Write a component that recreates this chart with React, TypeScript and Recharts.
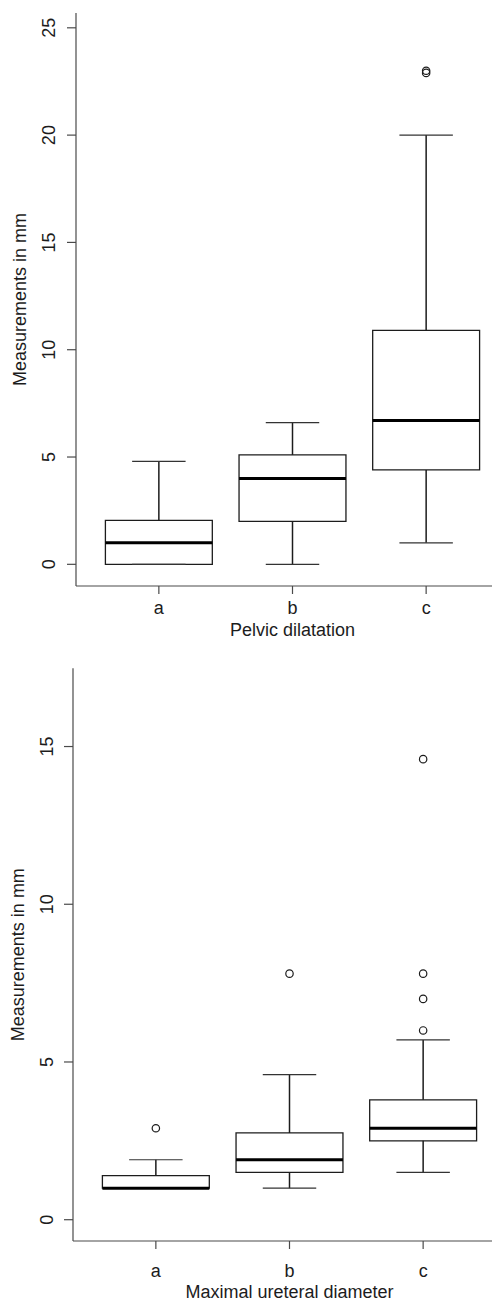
import { ComposedChart, ReferenceArea, ReferenceLine, Scatter, XAxis, YAxis } from "recharts";

const categories = ["a", "b", "c"];

// Pelvic dilatation (mm)
const pelvicLow = [0, 0, 1.0];
const pelvicQ1 = [0, 2.0, 4.4];
const pelvicMedian = [1.0, 4.0, 6.7];
const pelvicQ3 = [2.05, 5.1, 10.9];
const pelvicHigh = [4.8, 6.6, 20.0];
const pelvicOutliers = [[], [], [22.9, 23.0]];
const pelvicTicks = [0, 5, 10, 15, 20, 25];

// Maximal ureteral diameter (mm)
const ureterLow = [1.0, 1.0, 1.5];
const ureterQ1 = [1.0, 1.5, 2.5];
const ureterMedian = [1.0, 1.9, 2.9];
const ureterQ3 = [1.4, 2.75, 3.8];
const ureterHigh = [1.9, 4.6, 5.7];
const ureterOutliers = [[2.9], [7.8], [6.0, 7.0, 7.8, 14.6]];
const ureterTicks = [0, 5, 10, 15];

const ink = "#1c1c1c";
const axisInk = "#4a4a4a";
const font = "'Liberation Sans', Arial, sans-serif";

function RotatedTick({ x, y, payload }: any) {
  return (
    <text
      x={x}
      y={y}
      transform={`rotate(-90, ${x}, ${y})`}
      textAnchor="middle"
      fill={ink}
      fontSize={18}
      fontFamily={font}
    >
      {payload.value}
    </text>
  );
}

function XTitle({ text, centerX, baseY }: any) {
  return (
    <text x={centerX} y={baseY} textAnchor="middle" fill={ink} fontSize={18} fontFamily={font}>
      {text}
    </text>
  );
}

function YTitle({ text, baseX, centerY }: any) {
  return (
    <text
      x={baseX}
      y={centerY}
      transform={`rotate(-90, ${baseX}, ${centerY})`}
      textAnchor="middle"
      fill={ink}
      fontSize={18}
      fontFamily={font}
    >
      {text}
    </text>
  );
}

function Outlier({ cx, cy }: any) {
  if (cx == null || cy == null) return null;
  return <circle cx={cx} cy={cy} r={3.7} fill="none" stroke={ink} strokeWidth={1.2} />;
}

function BoxChart(props: any) {
  const {
    width, height, top, yAxisWidth, xAxisHeight, yDomain, yTicks,
    low, q1, median, q3, high, outliers, xTitle,
    xTickMargin, yTickMargin, xTitleBase, yTitleX,
  } = props;
  const plotWidth = width - yAxisWidth;
  const plotHeight = height - top - xAxisHeight;
  const points = outliers.flatMap((vals: number[], i: number) =>
    vals.map((v) => ({ x: i + 1, y: v }))
  );
  const whisker = { stroke: ink, strokeWidth: 1.5, ifOverflow: "visible" as const };
  const cap = { stroke: "#333", strokeWidth: 1.2, ifOverflow: "visible" as const };

  return (
    <ComposedChart width={width} height={height} margin={{ top, right: 0, bottom: 0, left: 0 }}>
      <XAxis
        type="number"
        dataKey="x"
        domain={[0.38, 3.62]}
        ticks={[1, 2, 3]}
        interval={0}
        allowDataOverflow
        height={xAxisHeight}
        tickFormatter={(v) => categories[v - 1]}
        tick={{ fill: ink, fontSize: 18, fontFamily: font }}
        tickSize={8}
        tickMargin={xTickMargin}
        tickLine={{ stroke: axisInk, strokeWidth: 1.2 }}
        axisLine={{ stroke: axisInk, strokeWidth: 1.2 }}
        label={<XTitle text={xTitle} centerX={yAxisWidth + plotWidth / 2} baseY={xTitleBase} />}
      />
      <YAxis
        type="number"
        dataKey="y"
        domain={yDomain}
        ticks={yTicks}
        interval={0}
        allowDataOverflow
        width={yAxisWidth}
        tick={(p: any) => <RotatedTick {...p} />}
        tickSize={9}
        tickMargin={yTickMargin}
        tickLine={{ stroke: axisInk, strokeWidth: 1.2 }}
        axisLine={{ stroke: axisInk, strokeWidth: 1.2 }}
        label={<YTitle text="Measurements in mm" baseX={yTitleX} centerY={top + plotHeight / 2} />}
      />
      {categories.map((c, i) => (
        <ReferenceLine key={`wl-${c}`} segment={[{ x: i + 1, y: low[i] }, { x: i + 1, y: q1[i] }]} {...whisker} />
      ))}
      {categories.map((c, i) => (
        <ReferenceLine key={`wh-${c}`} segment={[{ x: i + 1, y: q3[i] }, { x: i + 1, y: high[i] }]} {...whisker} />
      ))}
      {categories.map((c, i) => (
        <ReferenceLine key={`cl-${c}`} segment={[{ x: i + 0.8, y: low[i] }, { x: i + 1.2, y: low[i] }]} {...cap} />
      ))}
      {categories.map((c, i) => (
        <ReferenceLine key={`ch-${c}`} segment={[{ x: i + 0.8, y: high[i] }, { x: i + 1.2, y: high[i] }]} {...cap} />
      ))}
      {categories.map((c, i) => (
        <ReferenceArea
          key={`box-${c}`}
          x1={i + 0.6}
          x2={i + 1.4}
          y1={q1[i]}
          y2={q3[i]}
          fill="#ffffff"
          fillOpacity={1}
          stroke={ink}
          strokeWidth={1.3}
          ifOverflow="visible"
        />
      ))}
      {categories.map((c, i) => (
        <ReferenceLine
          key={`med-${c}`}
          segment={[{ x: i + 0.6, y: median[i] }, { x: i + 1.4, y: median[i] }]}
          stroke="#000"
          strokeWidth={3}
          ifOverflow="visible"
        />
      ))}
      <Scatter data={points} dataKey="y" shape={<Outlier />} isAnimationActive={false} />
    </ComposedChart>
  );
}

export default function App() {
  return (
    <div style={{ position: "absolute", left: 0, top: 0, width: 492, height: 1301, background: "#fff" }}>
      <div style={{ width: 492, height: 660, overflow: "hidden" }}>
        <BoxChart
          width={509}
          height={660}
          top={13}
          yAxisWidth={76}
          xAxisHeight={74}
          yDomain={[-1.01, 25.69]}
          yTicks={pelvicTicks}
          low={pelvicLow}
          q1={pelvicQ1}
          median={pelvicMedian}
          q3={pelvicQ3}
          high={pelvicHigh}
          outliers={pelvicOutliers}
          xTitle="Pelvic dilatation"
          xTickMargin={7.5}
          yTickMargin={12}
          xTitleBase={636}
          yTitleX={25.5}
        />
      </div>
      <div style={{ width: 492, height: 641, overflow: "hidden" }}>
        <BoxChart
          width={506}
          height={641}
          top={8.3}
          yAxisWidth={73}
          xAxisHeight={60}
          yDomain={[-0.675, 17.48]}
          yTicks={ureterTicks}
          low={ureterLow}
          q1={ureterQ1}
          median={ureterMedian}
          q3={ureterQ3}
          high={ureterHigh}
          outliers={ureterOutliers}
          xTitle="Maximal ureteral diameter"
          xTickMargin={15}
          yTickMargin={10.5}
          xTitleBase={638}
          yTitleX={24}
        />
      </div>
    </div>
  );
}
